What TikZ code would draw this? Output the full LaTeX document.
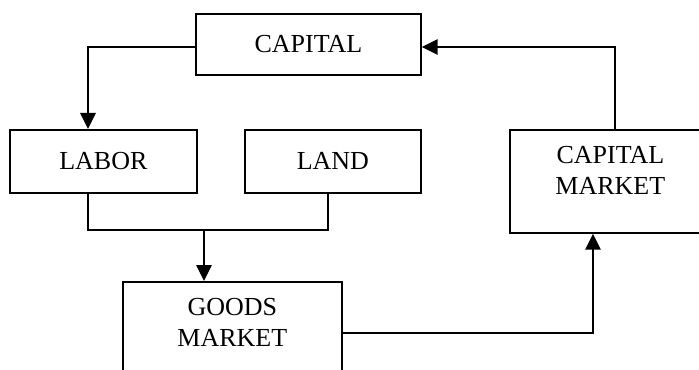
\documentclass[tikz,border=0pt]{standalone}
\usepackage{fontspec}
\setmainfont{Liberation Serif}
\usetikzlibrary{arrows.meta,positioning}

\tikzset{
  flatbox/.style={draw, line width=1.3pt, rectangle, inner sep=0pt, anchor=north west,
    font=\fontsize{19.5}{23.3}\selectfont},
  tallbox/.style={flatbox, minimum height=77.25pt},
  toptext/.style={anchor=north, align=center, inner sep=0pt, yshift=-13pt,
    font=\fontsize{19.5}{23.3}\selectfont}
}

\begin{document}
\begin{tikzpicture}[x=0.75pt, y=-0.75pt]
        \useasboundingbox (0,0) rectangle (699,370);
        \clip (0,0) rectangle (699,370);

        \begin{scope}[every node/.append style={minimum height=45.75pt}]
        \node[flatbox, minimum width=168.75pt] (cap) at (195,13) {CAPITAL};
        \node[flatbox, minimum width=140.25pt, minimum height=47.25pt] (labor) at (9,129) {LABOR};
        \node[flatbox, minimum width=132pt, minimum height=47.25pt] (land) at (244,129) {LAND};
        \end{scope}

        \node[tallbox, minimum width=150.75pt,
          label={[toptext, name=capmtxt]north:CAPITAL\\MARKET}] (capm) at (509,129) {};
        \node[tallbox, minimum width=164.25pt,
          label={[toptext, name=goodstxt]north:GOODS\\MARKET}] (goods) at (122,281) {};

        % bends of the connectors
        \coordinate (cl) at (88,47);
        \coordinate (cr) at (615,47);
        \coordinate (jl) at (88,230);
        \coordinate (jr) at (328,230);
        \coordinate (jn) at (204,230);
        \coordinate (gr) at (593,333);

        \begin{scope}[>={Triangle[length=12pt,width=11.5pt]}, line width=1.3pt]
        \draw [->] (cap.west |- cl) -- (cl) -- (cl |- labor.north);
        \draw [->] (cr |- capm.north) -- (cr) -- (cap.east |- cr);
        \draw (jl |- labor.south) -- (jl) -- (jr) -- (jr |- land.south);
        \draw [->] (jn) -- (jn |- goods.north);
        \draw [->] (goods.east |- gr) -- (gr) -- (gr |- capm.south);
        \end{scope}
    \end{tikzpicture}
\end{document}
